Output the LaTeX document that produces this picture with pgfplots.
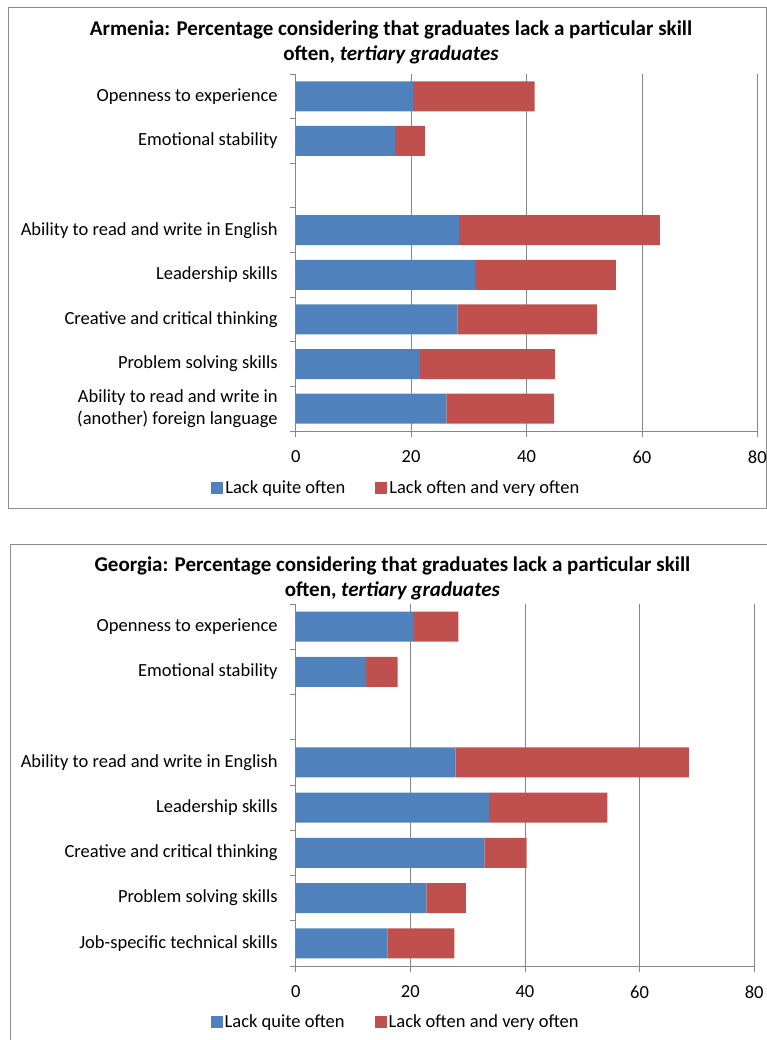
\documentclass[border=0pt]{standalone}
\usepackage{fontspec}
\setmainfont{Carlito}
\usepackage{pgfplots}
\pgfplotsset{compat=1.18}
\definecolor{cblue}{RGB}{79,129,189}
\definecolor{cred}{RGB}{192,80,77}
\definecolor{cgrid}{RGB}{134,134,134}
\definecolor{cframe}{RGB}{140,140,140}

\pgfplotsset{
  mychart/.style={
    xbar stacked,
    scale only axis,
    xmin=0, xmax=80,
    ymin=-0.5, ymax=7.5,
    xtick={0,20,40,60,80},
    xmajorgrids,
    grid style={cgrid, line width=0.8pt},
    axis x line*=bottom,
    axis y line*=left,
    axis line style={cgrid, line width=0.8pt},
    tick align=outside,
    major tick length=6pt,
    minor tick length=6pt,
    tick style={cgrid, line width=0.8pt},
    every major y tick/.append style={draw=none},
    ytick={0,...,7},
    minor ytick={-0.5,0.5,...,7.5},
    bar width=30pt,
    /pgf/number format/assume math mode=true,
    ticklabel style={font=\fontsize{18.5}{22}\selectfont, text=black},
    yticklabel style={align=right, xshift=-8.5pt},
    xticklabel style={yshift=-10pt},
    title style={font=\fontsize{21}{25}\selectfont\bfseries, align=center, anchor=south},
    legend style={draw=none, legend columns=2, font=\fontsize{18.5}{20}\selectfont,
      /tikz/every even column/.append style={column sep=28pt}},
    legend image code/.code={\fill[##1, draw=none] (-3pt,-5.6pt) rectangle (9pt,5.6pt);},
  }
}

\begin{document}
\begin{tikzpicture}
\useasboundingbox (0pt,0pt) rectangle (767pt,-1040pt);
\draw[cframe, line width=0.8pt] (8pt,-7pt) rectangle (766pt,-508pt);
\draw[cframe, line width=0.8pt] (10pt,-544pt) rectangle (800pt,-1100pt);

% Armenia
\begin{axis}[mychart,
  at={(295.7pt,-431pt)}, anchor=south west,
  width=461.6pt, height=357pt,
  yticklabels={Ability to read and write in\\(another) foreign language,
    Problem solving skills, Creative and critical thinking, Leadership skills,
    Ability to read and write in English, {}, Emotional stability, Openness to experience},
  title={Armenia: Percentage considering that graduates lack a particular skill\\often, \textit{tertiary graduates}},
  title style={at={(axis description cs:0.2065,1)}, yshift=0pt},
  legend style={at={(axis description cs:0.218,0)}, anchor=center, yshift=-57pt},
]
\addplot[fill=cblue, draw=none] coordinates {(26.1,0) (21.5,1) (28.0,2) (31.1,3) (28.3,4) (0,5) (17.2,6) (20.3,7)};
\addplot[fill=cred, draw=none] coordinates {(18.7,0) (23.4,1) (24.2,2) (24.4,3) (34.8,4) (0,5) (5.2,6) (21.1,7)};
\legend{Lack quite often, Lack often and very often}
\end{axis}

% Georgia
\begin{axis}[mychart,
  at={(295.7pt,-966pt)}, anchor=south west,
  width=458.5pt, height=362pt,
  yticklabels={Job-specific technical skills,
    Problem solving skills, Creative and critical thinking, Leadership skills,
    Ability to read and write in English, {}, Emotional stability, Openness to experience},
  title={Georgia: Percentage considering that graduates lack a particular skill\\often, \textit{tertiary graduates}},
  title style={at={(axis description cs:0.211,1)}, yshift=-6pt},
  legend style={at={(axis description cs:0.218,0)}, anchor=center, yshift=-56pt},
]
\addplot[fill=cblue, draw=none] coordinates {(16.0,0) (22.8,1) (32.9,2) (33.7,3) (27.9,4) (0,5) (12.3,6) (20.5,7)};
\addplot[fill=cred, draw=none] coordinates {(11.7,0) (6.9,1) (7.4,2) (20.7,3) (40.7,4) (0,5) (5.5,6) (7.9,7)};
\legend{Lack quite often, Lack often and very often}
\end{axis}
\end{tikzpicture}
\end{document}
